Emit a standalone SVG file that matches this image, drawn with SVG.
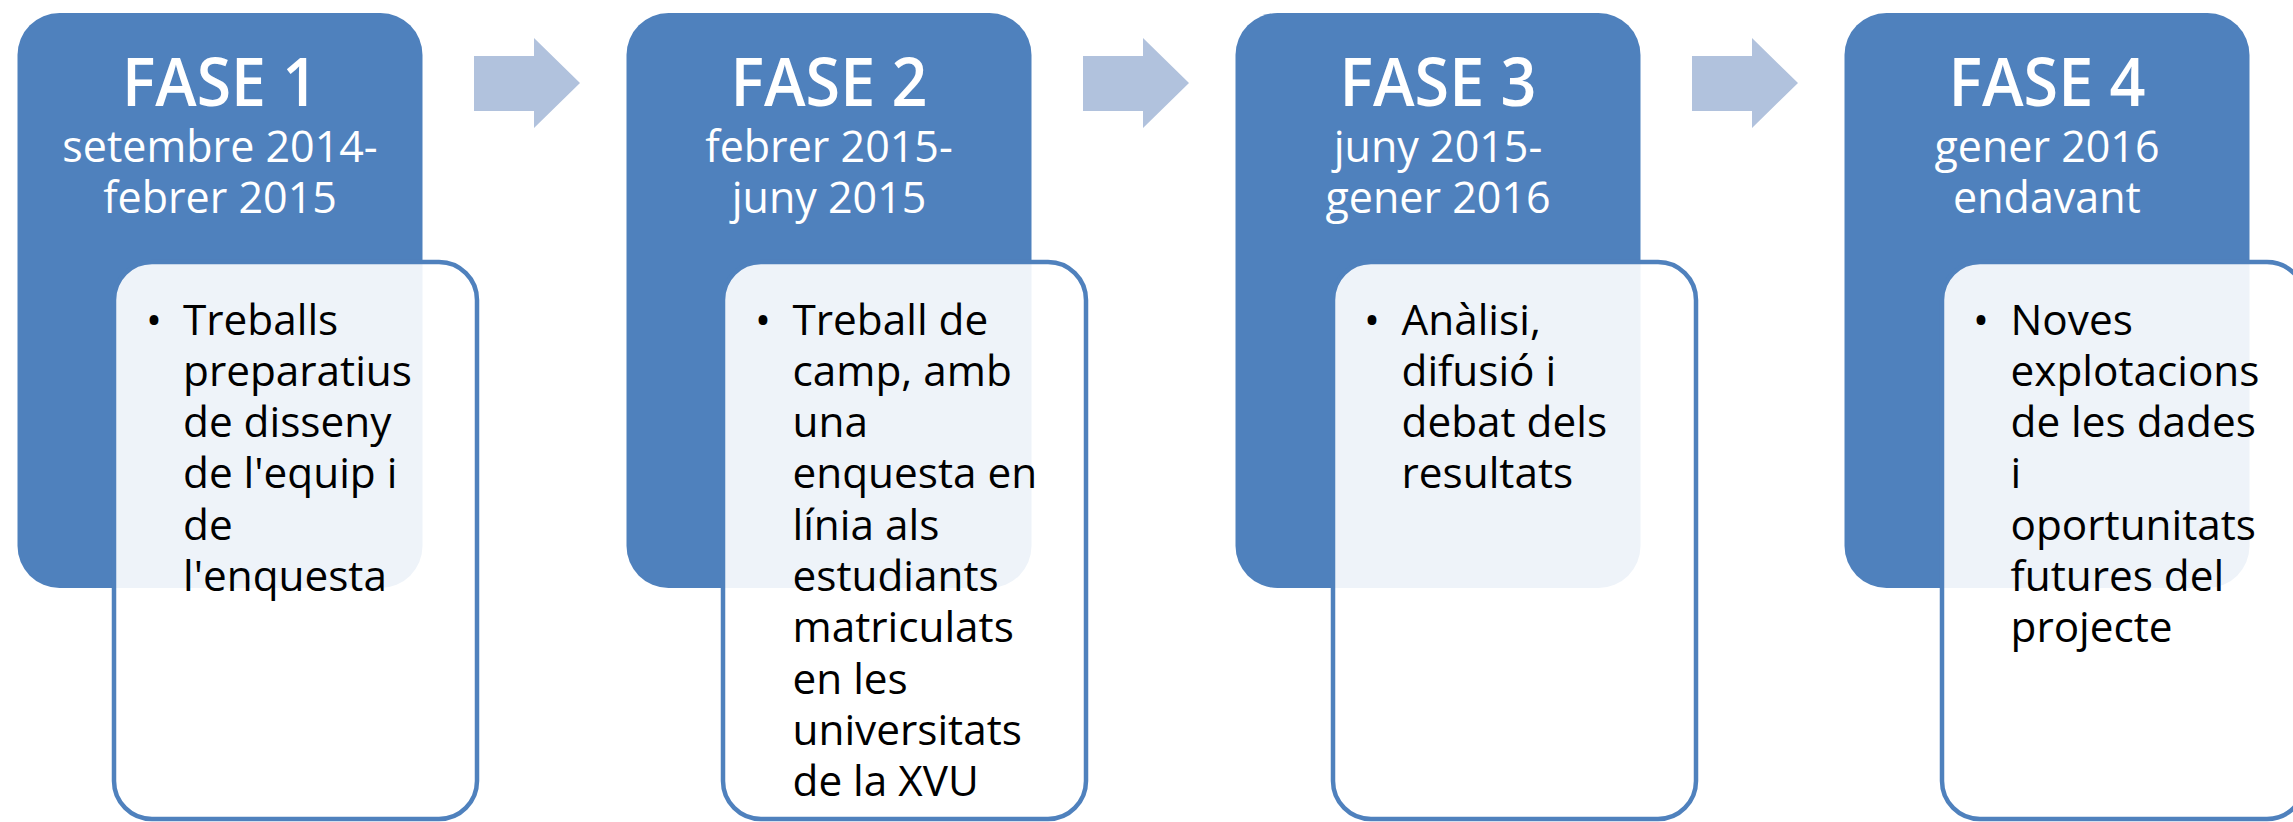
<svg xmlns="http://www.w3.org/2000/svg" width="2293" height="822" viewBox="0 0 2293 822">
<style>
.phase{fill:#4f81bd}
.detail{fill:#ffffff;fill-opacity:0.9;stroke:#4f81bd;stroke-width:4.5}
.arrow{fill:#b1c2dd}
.title{font-family:"Open Sans","Liberation Sans",sans-serif;font-size:67px;font-weight:600;fill:#ffffff;text-anchor:middle}
.sub{font-family:"Open Sans","Liberation Sans",sans-serif;font-size:43px;fill:#ffffff;text-anchor:middle}
.body{font-family:"Open Sans","Liberation Sans",sans-serif;font-size:42.3px;fill:#000000}
.bullet{font-family:"Open Sans","Liberation Sans",sans-serif;font-size:42.3px;fill:#000000;text-anchor:middle}
</style>
<rect width="2293" height="822" fill="#ffffff"/>
<g id="connectors">
<polygon class="arrow" points="474,56 534,56 534,38 580,83 534,128 534,111 474,111"/>
<polygon class="arrow" points="1083,56 1143,56 1143,38 1189,83 1143,128 1143,111 1083,111"/>
<polygon class="arrow" points="1692,56 1752,56 1752,38 1798,83 1752,128 1752,111 1692,111"/>
</g>
<g id="fase1">
<rect class="phase" x="17.5" y="13" width="405" height="575" rx="42"/>
<text class="title" x="220" y="106" textLength="196" lengthAdjust="spacingAndGlyphs">FASE 1</text>
<text class="sub" x="220" y="162">setembre 2014-</text>
<text class="sub" x="220" y="213">febrer 2015</text>
<rect class="detail" x="114" y="262" width="363" height="557" rx="38"/>
<text class="bullet" x="154" y="334.5">•</text>
<text class="body" x="183" y="334.5">Treballs</text>
<text class="body" x="183" y="385.8">preparatius</text>
<text class="body" x="183" y="437.1">de disseny</text>
<text class="body" x="183" y="488.4">de l'equip i</text>
<text class="body" x="183" y="539.7">de</text>
<text class="body" x="183" y="591">l'enquesta</text>
</g>
<g id="fase2">
<rect class="phase" x="626.5" y="13" width="405" height="575" rx="42"/>
<text class="title" x="829" y="106" textLength="197" lengthAdjust="spacingAndGlyphs">FASE 2</text>
<text class="sub" x="829" y="162">febrer 2015-</text>
<text class="sub" x="829" y="213">juny 2015</text>
<rect class="detail" x="723" y="262" width="363" height="557" rx="38"/>
<text class="bullet" x="763" y="334.5">•</text>
<text class="body" x="792.5" y="334.5">Treball de</text>
<text class="body" x="792.5" y="385.8">camp, amb</text>
<text class="body" x="792.5" y="437.1">una</text>
<text class="body" x="792.5" y="488.4">enquesta en</text>
<text class="body" x="792.5" y="539.7">línia als</text>
<text class="body" x="792.5" y="591">estudiants</text>
<text class="body" x="792.5" y="642.3">matriculats</text>
<text class="body" x="792.5" y="693.6">en les</text>
<text class="body" x="792.5" y="744.9">universitats</text>
<text class="body" x="792.5" y="796.2">de la XVU</text>
</g>
<g id="fase3">
<rect class="phase" x="1235.5" y="13" width="405" height="575" rx="42"/>
<text class="title" x="1438" y="106" textLength="197" lengthAdjust="spacingAndGlyphs">FASE 3</text>
<text class="sub" x="1438" y="162">juny 2015-</text>
<text class="sub" x="1438" y="213">gener 2016</text>
<rect class="detail" x="1333" y="262" width="363" height="557" rx="38"/>
<text class="bullet" x="1372" y="334.5">•</text>
<text class="body" x="1401.5" y="334.5">Anàlisi,</text>
<text class="body" x="1401.5" y="385.8">difusió i</text>
<text class="body" x="1401.5" y="437.1">debat dels</text>
<text class="body" x="1401.5" y="488.4">resultats</text>
</g>
<g id="fase4">
<rect class="phase" x="1844.5" y="13" width="405" height="575" rx="42"/>
<text class="title" x="2047" y="106" textLength="197" lengthAdjust="spacingAndGlyphs">FASE 4</text>
<text class="sub" x="2047" y="162">gener 2016</text>
<text class="sub" x="2047" y="213">endavant</text>
<rect class="detail" x="1942" y="262" width="363" height="557" rx="38"/>
<text class="bullet" x="1981" y="334.5">•</text>
<text class="body" x="2010.5" y="334.5">Noves</text>
<text class="body" x="2010.5" y="385.8">explotacions</text>
<text class="body" x="2010.5" y="437.1">de les dades</text>
<text class="body" x="2010.5" y="488.4">i</text>
<text class="body" x="2010.5" y="539.7">oportunitats</text>
<text class="body" x="2010.5" y="591">futures del</text>
<text class="body" x="2010.5" y="642.3">projecte</text>
</g>
</svg>
